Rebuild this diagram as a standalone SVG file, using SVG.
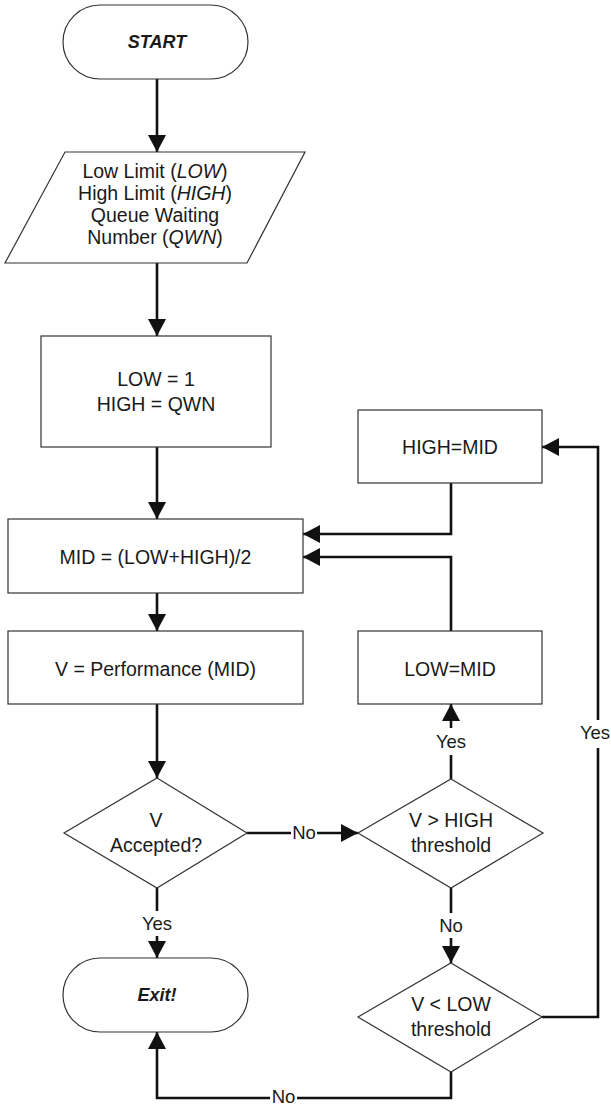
<svg xmlns="http://www.w3.org/2000/svg" width="611" height="1105" viewBox="0 0 611 1105">
<style>
.shape{fill:#fff;stroke:#333;stroke-width:1.2}
.t{font-family:"Liberation Sans",Arial,sans-serif;font-size:19.5px;fill:#1a1a1a;text-anchor:middle}
.lbl{font-family:"Liberation Sans",Arial,sans-serif;font-size:18.5px;fill:#1a1a1a;text-anchor:middle}
.bi{font-weight:bold;font-style:italic;font-size:18px}
.c{fill:none;stroke:#111;stroke-width:2.6;stroke-linejoin:miter}
.bg{fill:#fff;stroke:none}
</style>
<defs>
<marker id="ah" markerWidth="18" markerHeight="18" refX="17" refY="9" orient="auto" markerUnits="userSpaceOnUse">
<path d="M0,0 L17,9 L0,18 Z" fill="#111"/>
</marker>
</defs>
<rect width="611" height="1105" fill="#fff"/>
<g id="connectors">
<path class="c" d="M157,79 V152" marker-end="url(#ah)"/>
<path class="c" d="M157,263 V336" marker-end="url(#ah)"/>
<path class="c" d="M157,447 V519" marker-end="url(#ah)"/>
<path class="c" d="M157,593 V631" marker-end="url(#ah)"/>
<path class="c" d="M157,704 V778" marker-end="url(#ah)"/>
<path class="c" d="M157,888 V958" marker-end="url(#ah)"/>
<path class="c" d="M247,833 H358" marker-end="url(#ah)"/>
<path class="c" d="M451,779 V704" marker-end="url(#ah)"/>
<path class="c" d="M451,631 V557 H303" marker-end="url(#ah)"/>
<path class="c" d="M451,483 V534 H303" marker-end="url(#ah)"/>
<path class="c" d="M451,888 V963" marker-end="url(#ah)"/>
<path class="c" d="M542,1017 H598 V447 H542" marker-end="url(#ah)"/>
<path class="c" d="M451,1072 V1098 H157 V1032" marker-end="url(#ah)"/>
<rect class="bg" x="139" y="911" width="36" height="25"/>
<text class="lbl" x="157" y="930">Yes</text>
<rect class="bg" x="291" y="824" width="26" height="18"/>
<text class="lbl" x="304" y="839">No</text>
<rect class="bg" x="433" y="728" width="36" height="27"/>
<text class="lbl" x="451" y="748">Yes</text>
<rect class="bg" x="438" y="913" width="26" height="25"/>
<text class="lbl" x="451" y="932">No</text>
<rect class="bg" x="579" y="720" width="32" height="28"/>
<text class="lbl" x="595" y="739">Yes</text>
<rect class="bg" x="270" y="1090" width="27" height="15"/>
<text class="lbl" x="283.5" y="1103">No</text>
</g>
<g id="start">
<rect class="shape" x="63" y="5" width="185" height="74" rx="37" ry="37"/>
<text class="t bi" x="157" y="48">START</text>
</g>
<g id="input">
<polygon class="shape" points="65,152 305,152 247,263 5,263"/>
<text class="t" x="155" y="178">Low Limit (<tspan font-style="italic">LOW</tspan>)</text>
<text class="t" x="155" y="200">High Limit (<tspan font-style="italic">HIGH</tspan>)</text>
<text class="t" x="155" y="222">Queue Waiting</text>
<text class="t" x="155" y="244">Number (<tspan font-style="italic">QWN</tspan>)</text>
</g>
<g id="init">
<rect class="shape" x="41" y="336" width="230" height="111"/>
<text class="t" x="156" y="386">LOW = 1</text>
<text class="t" x="156" y="411">HIGH = QWN</text>
</g>
<g id="mid">
<rect class="shape" x="8" y="519" width="295" height="74"/>
<text class="t" x="155.5" y="564">MID = (LOW+HIGH)/2</text>
</g>
<g id="perf">
<rect class="shape" x="8" y="631" width="295" height="73"/>
<text class="t" x="155.5" y="676">V = Performance (MID)</text>
</g>
<g id="high-mid">
<rect class="shape" x="358" y="410" width="184" height="73"/>
<text class="t" x="450" y="454">HIGH=MID</text>
</g>
<g id="low-mid">
<rect class="shape" x="358" y="631" width="184" height="73"/>
<text class="t" x="450" y="676">LOW=MID</text>
</g>
<g id="accepted">
<polygon class="shape" points="157,778 247,833 157,888 64,833"/>
<text class="t" x="156" y="827">V</text>
<text class="t" x="156" y="852">Accepted?</text>
</g>
<g id="gt-high">
<polygon class="shape" points="451,779 543,833 451,888 358,833"/>
<text class="t" x="451" y="827">V &gt; HIGH</text>
<text class="t" x="451" y="852">threshold</text>
</g>
<g id="lt-low">
<polygon class="shape" points="451,963 542,1017 451,1072 358,1017"/>
<text class="t" x="451" y="1011">V &lt; LOW</text>
<text class="t" x="451" y="1036">threshold</text>
</g>
<g id="exit">
<rect class="shape" x="63" y="958" width="185" height="74" rx="37" ry="37"/>
<text class="t bi" x="157" y="1001">Exit!</text>
</g>
</svg>
